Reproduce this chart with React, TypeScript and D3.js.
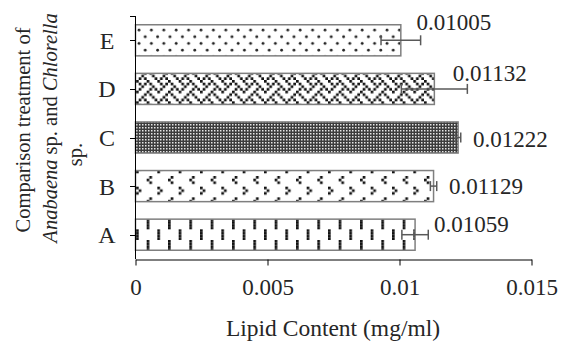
import { useEffect, useRef } from 'react';
import * as d3 from 'd3';

// treatments, bottom (A) to top (E)
const categories = ['A', 'B', 'C', 'D', 'E'];
const lipidValues = [0.01059, 0.01129, 0.01222, 0.01132, 0.01005];
const lipidErrors = [0.0005, 0.00012, 0.0001, 0.00125, 0.00075];
const xTicks = [0, 0.005, 0.01, 0.015];
const xTickLabels = ['0', '0.005', '0.01', '0.015'];

// where Excel left each data label, relative to the bar end / bar centre
const labelOffsets: [number, number][] = [
  [19, -3],
  [15.5, 7.6],
  [15, 9.5],
  [18.4, -7.5],
  [15.7, -10.6],
];

// 8x8 hatch bitmaps (one byte per row, high bit = left column)
const HATCH_BITS: Record<string, number[]> = {
  dashedVertical: [0x80, 0x80, 0x80, 0x80, 0x08, 0x08, 0x08, 0x08],
  divot: [0x80, 0x40, 0x80, 0x00, 0x04, 0x08, 0x04, 0x00],
  weave: [0x88, 0x54, 0x22, 0x45, 0x88, 0x14, 0x22, 0x51],
};

const W = 561;
const H = 341;
const FONT = '"Liberation Serif", "Times New Roman", serif';
const TEXT = '#262626';

export default function App() {
  const ref = useRef<SVGSVGElement | null>(null);

  useEffect(() => {
    document.body.style.margin = '0';
    if (!ref.current) return;
    const svg = d3.select(ref.current);
    svg.selectAll('*').remove();

    const x = d3.scaleLinear().domain([0, 0.015]).range([135.5, 531.5]);
    const y = d3.scaleBand<string>()
      .domain([...categories].reverse())
      .range([16, 259])
      .paddingInner(0.36)
      .paddingOuter(0.18);

    const defs = svg.append('defs');
    const s = 8 / 3;

    const bitmapPattern = (id: string, bits: number[]) => {
      const p = defs.append('pattern')
        .attr('id', id)
        .attr('patternUnits', 'userSpaceOnUse')
        .attr('width', 8 * s)
        .attr('height', 8 * s)
        .attr('x', 136)
        .attr('y', 16);
      p.append('rect').attr('width', 8 * s).attr('height', 8 * s).attr('fill', '#fff');
      bits.forEach((row, r) => {
        for (let c = 0; c < 8; c++) {
          if (row & (0x80 >> c)) {
            p.append('rect')
              .attr('x', c * s)
              .attr('y', r * s)
              .attr('width', s)
              .attr('height', s)
              .attr('fill', '#111');
          }
        }
      });
    };
    bitmapPattern('pat-A', HATCH_BITS.dashedVertical);
    bitmapPattern('pat-B', HATCH_BITS.divot);
    bitmapPattern('pat-D', HATCH_BITS.weave);

    // fine dark checker for C
    const pc = defs.append('pattern')
      .attr('id', 'pat-C')
      .attr('patternUnits', 'userSpaceOnUse')
      .attr('width', 3)
      .attr('height', 3);
    pc.append('rect').attr('width', 3).attr('height', 3).attr('fill', '#3c3c3c');
    pc.append('rect').attr('x', 1).attr('y', 1).attr('width', 1.5).attr('height', 1.5).attr('fill', '#e6e6e6');

    // staggered dots for E
    const pe = defs.append('pattern')
      .attr('id', 'pat-E')
      .attr('patternUnits', 'userSpaceOnUse')
      .attr('width', 12.4)
      .attr('height', 13.4)
      .attr('x', 136)
      .attr('y', 26);
    pe.append('rect').attr('width', 12.4).attr('height', 13.4).attr('fill', '#fff');
    pe.append('circle').attr('cx', 3).attr('cy', 4).attr('r', 1.4).attr('fill', '#222');
    pe.append('circle').attr('cx', 9.2).attr('cy', 10.7).attr('r', 1.4).attr('fill', '#222');

    const rows = categories.map((c, i) => ({
      cat: c,
      value: lipidValues[i],
      err: lipidErrors[i],
      off: labelOffsets[i],
    }));

    // bars
    svg.append('g')
      .selectAll('rect')
      .data(rows)
      .enter()
      .append('rect')
      .attr('x', x(0))
      .attr('y', d => y(d.cat)!)
      .attr('width', d => x(d.value) - x(0))
      .attr('height', y.bandwidth())
      .attr('fill', d => `url(#pat-${d.cat})`)
      .attr('stroke', '#7f7f7f')
      .attr('stroke-width', 1.5);

    // error bars
    const eb = svg.append('g')
      .attr('stroke', '#595959')
      .attr('stroke-width', 1.5)
      .attr('fill', 'none');
    rows.forEach(d => {
      const cy = y(d.cat)! + y.bandwidth() / 2;
      const x0 = x(d.value - d.err);
      const x1 = x(d.value + d.err);
      eb.append('line').attr('x1', x0).attr('x2', x1).attr('y1', cy).attr('y2', cy);
      eb.append('line').attr('x1', x0).attr('x2', x0).attr('y1', cy - 5).attr('y2', cy + 5);
      eb.append('line').attr('x1', x1).attr('x2', x1).attr('y1', cy - 5).attr('y2', cy + 5);
    });

    // data labels
    svg.append('g')
      .selectAll('text')
      .data(rows)
      .enter()
      .append('text')
      .attr('x', d => x(d.value) + d.off[0])
      .attr('y', d => y(d.cat)! + y.bandwidth() / 2 + d.off[1])
      .attr('font-family', FONT)
      .attr('font-size', 23)
      .attr('fill', TEXT)
      .text(d => String(d.value));

    // y axis
    const yAxis = svg.append('g').attr('stroke', '#000').attr('stroke-width', 1);
    yAxis.append('line').attr('x1', 135.5).attr('x2', 135.5).attr('y1', 16).attr('y2', 259);
    yAxis.append('line').attr('x1', 130).attr('x2', 135.5).attr('y1', 16.5).attr('y2', 16.5);
    categories.forEach(c => {
      const cy = Math.round(y(c)! + y.bandwidth() / 2) + 0.5;
      yAxis.append('line').attr('x1', 130).attr('x2', 135.5).attr('y1', cy).attr('y2', cy);
    });
    svg.append('g')
      .selectAll('text')
      .data(categories)
      .enter()
      .append('text')
      .attr('x', 107)
      .attr('y', c => y(c)! + y.bandwidth() / 2 + 8.5)
      .attr('text-anchor', 'middle')
      .attr('font-family', FONT)
      .attr('font-size', 24)
      .attr('fill', TEXT)
      .text(c => c);

    // x axis
    const xAxis = svg.append('g')
      .attr('transform', 'translate(0,259.5)')
      .call(d3.axisBottom(x).tickValues(xTicks).tickSize(6).tickSizeOuter(0)
        .tickFormat((_, i) => xTickLabels[i]));
    xAxis.select('.domain').attr('stroke', '#000');
    xAxis.selectAll('.tick line').attr('stroke', '#000');
    xAxis.selectAll('.tick text')
      .attr('y', 0)
      .attr('dy', 0)
      .attr('transform', 'translate(0,35.5)')
      .attr('font-family', FONT)
      .attr('font-size', 23)
      .attr('fill', TEXT);

    // axis titles
    svg.append('text')
      .attr('x', 333)
      .attr('y', 336)
      .attr('text-anchor', 'middle')
      .attr('font-family', FONT)
      .attr('font-size', 23.5)
      .attr('fill', TEXT)
      .text('Lipid Content (mg/ml)');

    const yTitle = svg.append('g')
      .attr('font-family', FONT)
      .attr('font-size', 20.5)
      .attr('fill', TEXT)
      .attr('text-anchor', 'middle');
    yTitle.append('text')
      .attr('transform', 'translate(30,130) rotate(-90)')
      .text('Comparison treatment of');
    const l2 = yTitle.append('text').attr('transform', 'translate(56.5,128) rotate(-90)');
    l2.append('tspan').attr('font-style', 'italic').text('Anabaena');
    l2.append('tspan').text(' sp. and ');
    l2.append('tspan').attr('font-style', 'italic').text('Chlorella');
    yTitle.append('text')
      .attr('transform', 'translate(81.5,154.5) rotate(-90)')
      .text('sp.');
  }, []);

  return (
    <svg
      ref={ref}
      width={W}
      height={H}
      style={{ display: 'block', background: '#fff' }}
    />
  );
}
